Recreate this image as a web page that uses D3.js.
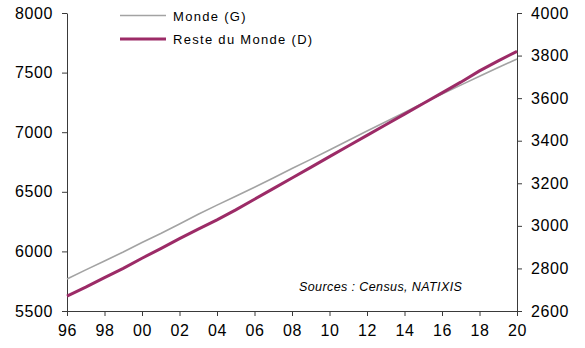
<!DOCTYPE html>
<html>
<head>
<meta charset="utf-8">
<script src="https://cdn.jsdelivr.net/npm/d3@7"></script>
<style>
  html, body { margin: 0; padding: 0; background: #fff; }
  svg { display: block; font-family: "Liberation Sans", Arial, sans-serif; }
</style>
</head>
<body>
<svg id="chart" width="585" height="348"></svg>
<script>
// Years (1996 to 2020)
const years = [1996, 1997, 1998, 1999, 2000, 2001, 2002, 2003, 2004, 2005, 2006, 2007, 2008,
               2009, 2010, 2011, 2012, 2013, 2014, 2015, 2016, 2017, 2018, 2019, 2020];

// World population, millions (left axis)
const monde = [5768, 5845, 5920, 5995, 6075, 6150, 6230, 6312, 6388, 6462, 6538, 6615, 6695,
               6772, 6850, 6930, 7010, 7088, 7165, 7245, 7320, 7395, 7470, 7542, 7614];

// Rest of the world, millions (right axis)
const resteDuMonde = [2670, 2712, 2757, 2800, 2848, 2893, 2940, 2985, 3028, 3075, 3125, 3175, 3225,
                      3275, 3325, 3375, 3425, 3475, 3525, 3575, 3625, 3675, 3728, 3775, 3820];

const leftTicks = [5500, 6000, 6500, 7000, 7500, 8000];
const rightTicks = [2600, 2800, 3000, 3200, 3400, 3600, 3800, 4000];
const xTicks = [1996, 1998, 2000, 2002, 2004, 2006, 2008, 2010, 2012, 2014, 2016, 2018, 2020];

const seriesNames = ["Monde (G)", "Reste du Monde (D)"];
const sourceText = "Sources : Census, NATIXIS";

const colGray = "#a3a3a3";
const colPurple = "#9c2b67";
const axisCol = "#3a3a3a";

const svg = d3.select("#chart");
const L = 67, R = 517, T = 13, B = 311;

const x = d3.scaleLinear().domain([1996, 2020]).range([L, R]);
const yL = d3.scaleLinear().domain([5500, 8000]).range([B, T]);
const yR = d3.scaleLinear().domain([2600, 4000]).range([B, T]);

function styleAxis(g) {
  g.select(".domain").attr("stroke", axisCol).attr("stroke-width", 1);
  g.selectAll(".tick line").attr("stroke", axisCol).attr("stroke-width", 1);
  g.selectAll(".tick text")
    .attr("fill", "#000")
    .style("font-size", "16px")
    .style("letter-spacing", "0.6px");
}

// Left axis
svg.append("g")
  .attr("transform", `translate(${L},0)`)
  .call(d3.axisLeft(yL).tickValues(leftTicks).tickSize(5).tickSizeOuter(0).tickPadding(9).tickFormat(d3.format("d")))
  .call(styleAxis);

// Right axis
svg.append("g")
  .attr("transform", `translate(${R},0)`)
  .call(d3.axisRight(yR).tickValues(rightTicks).tickSize(5).tickSizeOuter(0).tickPadding(9).tickFormat(d3.format("d")))
  .call(styleAxis);

// Bottom axis
svg.append("g")
  .attr("transform", `translate(0,${B})`)
  .call(d3.axisBottom(x).tickValues(xTicks).tickSize(5).tickSizeOuter(0).tickPadding(9)
        .tickFormat(d => String(d % 100).padStart(2, "0")))
  .call(styleAxis);

// Lines
const lineL = d3.line().x((d, i) => x(years[i])).y(d => yL(d));
const lineR = d3.line().x((d, i) => x(years[i])).y(d => yR(d));

svg.append("path")
  .datum(monde)
  .attr("d", lineL)
  .attr("fill", "none")
  .attr("stroke", colGray)
  .attr("stroke-width", 1.6);

svg.append("path")
  .datum(resteDuMonde)
  .attr("d", lineR)
  .attr("fill", "none")
  .attr("stroke", colPurple)
  .attr("stroke-width", 3);

// Legend
const legend = svg.append("g");
const legendItems = [
  { name: seriesNames[0], color: colGray, width: 1.6, y: 15.5 },
  { name: seriesNames[1], color: colPurple, width: 3, y: 39 }
];
legendItems.forEach(it => {
  legend.append("line")
    .attr("x1", 120).attr("x2", 166)
    .attr("y1", it.y).attr("y2", it.y)
    .attr("stroke", it.color).attr("stroke-width", it.width);
  legend.append("text")
    .attr("x", 173).attr("y", it.y + 5)
    .style("font-size", "13px")
    .style("letter-spacing", "1.3px")
    .attr("fill", "#000")
    .text(it.name);
});

// Source note
svg.append("text")
  .attr("x", 299).attr("y", 291)
  .style("font-size", "12.5px")
  .style("font-style", "italic")
  .style("letter-spacing", "0.4px")
  .attr("fill", "#000")
  .text(sourceText);
</script>
</body>
</html>
